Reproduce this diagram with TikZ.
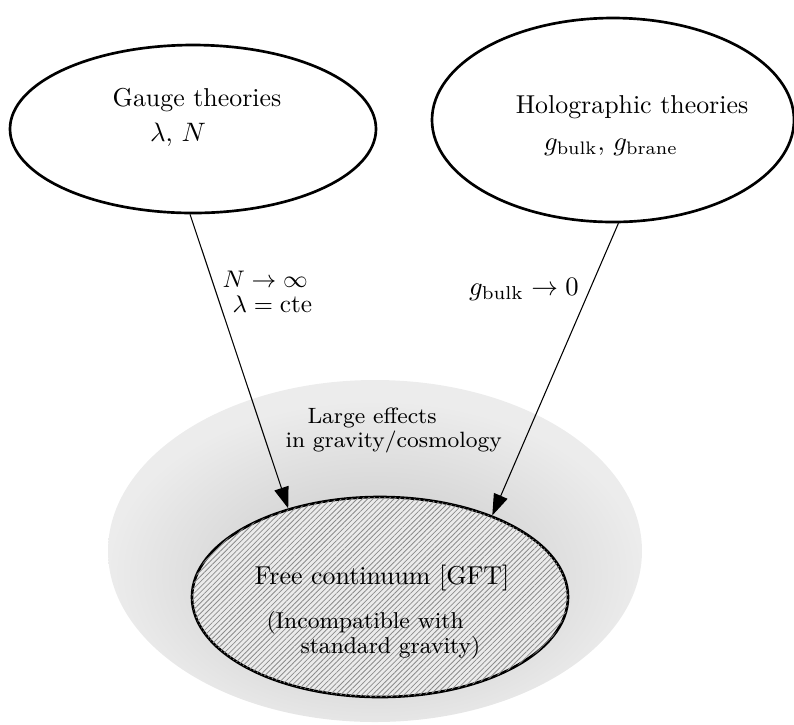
\documentclass[tikz,border=0pt]{standalone}
\usepackage{amsmath}
\usetikzlibrary{arrows.meta,shapes.geometric,patterns.meta}
\pgfdeclareradialshading{haze}{\pgfpoint{0bp}{-6bp}}{%
  color(0bp)=(gray!36); color(12bp)=(gray!32); color(25bp)=(gray!15); color(50bp)=(gray!15)}
\tikzset{
  theory/.style={draw, ellipse, line width=1pt, inner sep=0pt},
  link/.style={-{Triangle[length=8pt,width=5.5pt]}, line width=0.4pt},
  note/.style={align=left, anchor=west, inner sep=0pt},
}

\begin{document}
\begin{tikzpicture}[x=0.375pt, y=-0.375pt, font=\fontsize{9.7}{12}\selectfont]
    \useasboundingbox (0,0) rectangle (794,724);

    % === Background region ===
    \node[ellipse, shading=haze, minimum width=200.25pt, minimum height=128.25pt] (Gravity) at (375,551) {};
    \node[note, font=\fontsize{8.3}{9}\selectfont] (Effects) at (285,430) {\hspace*{8.25pt}Large effects\\ in gravity/cosmology};

    % === Free continuum ===
    \node[theory, fill=gray!16, postaction={pattern={Lines[angle=45, distance=1.4pt, line width=0.3pt]}, pattern color=gray!90},
          minimum width=141pt, minimum height=75pt] (GFT) at (380,597) {};
    \node (GFTlabel) at (382,578) {Free continuum [GFT]};
    \node[note, font=\fontsize{8.6}{9.4}\selectfont] (GFTnote) at (266,635) {(Incompatible with\\ \hspace*{12.75pt}standard gravity)};

    % === Gauge theories ===
    \node[theory, minimum width=137.25pt, minimum height=63pt] (Gauge) at (193,129) {};
    \node (Gaugelabel) at (197,100) {Gauge theories};
    \node (Gaugepar) at (178,135) {$\lambda$, $N$};

    % === Holographic theories ===
    \node[theory, minimum width=135.75pt, minimum height=76.5pt] (Holo) at (613,120) {};
    \node (Hololabel) at (632,107) {Holographic theories};
    \node (Holopar) at (611,147) {$g_{\text{bulk}}$, $g_{\text{brane}}$};

    % Limits
    \draw[link] (Gauge.-92) -- (GFT.136.9);
    \draw[link] (Holo.-87) -- (GFT.36.2);
    \node[note, font=\fontsize{9.5}{9.4}\selectfont] (Gaugelim) at (222,292) {$N\to\infty$\\ \hspace*{3.75pt}$\lambda=\text{cte}$};
    \node[font=\fontsize{10}{12}\selectfont] (Hololim) at (524,289) {$g_{\text{bulk}}\to 0$};

\end{tikzpicture}
\end{document}
